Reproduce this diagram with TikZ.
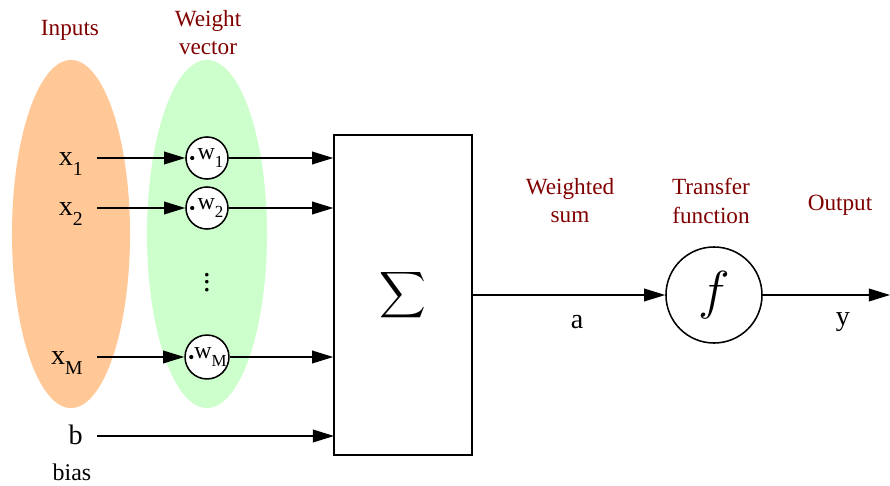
\documentclass[tikz,border=0pt]{standalone}
\usepackage{fontspec}
\setmainfont{Liberation Serif}
\newfontfamily\labelfont{Liberation Serif}
\usetikzlibrary{positioning,arrows.meta,calc}
\definecolor{inputbg}{HTML}{FFC896}
\definecolor{weightbg}{HTML}{CCFFCC}
\definecolor{caption}{HTML}{800000}
\newcommand{\lowsub}[2][14]{\raisebox{-0.8ex}{\fontsize{#1}{#1}\selectfont #2}}

\begin{document}
\begin{tikzpicture}[x=0.025cm, y=-0.025cm,
  every node/.style={font=\labelfont\fontsize{16.5}{20}\selectfont},
  wire/.style={line width=1.1pt, -{Triangle[length=15pt,width=9pt]}},
  heading/.style={text=caption, align=center},
  weight/.style={circle, draw, line width=1.1pt, fill=white, minimum size=1.05cm,
    inner sep=0pt, font=\labelfont\fontsize{17}{17}\selectfont},
  inlabel/.style={anchor=base east, inner xsep=10pt, inner ysep=0pt,
    font=\labelfont\fontsize{20}{20}\selectfont}]
  \useasboundingbox (0,0) rectangle (890,486);

  % coloured groups behind inputs and weights
  \fill[inputbg] (71,234) ellipse [x radius=1.475cm, y radius=4.35cm];
  \fill[weightbg] (207,234) ellipse [x radius=1.5cm, y radius=4.35cm];

  \node[heading] (hin) at (70,30) {Inputs};
  \node[heading] (hw) at (208,33) {Weight\\vector};

  % summing block
  \node[draw, line width=1.1pt, minimum width=3.45cm, minimum height=8cm] (sumbox)
    at (403,295) {\scalebox{2.3}{$\displaystyle\sum$}};

  % inputs -> weights -> sum
  \foreach \i/\y in {1/158, 2/208, M/357} {
    \node[inlabel] (x\i) at (97,\y+7) {x\lowsub{\i}};
    \node[weight] (w\i) at (207,\y) {\hspace{5pt}w\lowsub[12]{\i}};
    \fill ($(w\i.west)+(7,0)$) circle (1.5pt);
    \draw[wire] (x\i.east |- w\i) -- (w\i);
    \draw[wire] (w\i) -- (w\i -| sumbox.west);
  }
  \node (vdots) at (207,277) {\scalebox{1.3}{$\vdots$}};

  % bias
  \node[inlabel] (b) at (97,444) {b};
  \node (bias) at (72,472) {\fontsize{17}{17}\selectfont bias};
  \coordinate (bin) at (334,436);
  \draw[wire] (b.east |- bin) -- (bin);

  % transfer function and output
  \node[circle, draw, line width=1.1pt, minimum size=2.4cm] (fn) at (714,295)
    {\scalebox{2.2}{$f$}};
  \coordinate (yend) at (890,295);
  \draw[wire] (sumbox.east) -- (fn);
  \draw[wire] (fn) -- (yend);
  \node[font=\labelfont\fontsize{20}{20}\selectfont] (a) at (577,322) {a};
  \node[font=\labelfont\fontsize{20}{20}\selectfont] (yout) at (843,322) {y};

  \node[heading] (hsum) at (570,201) {Weighted\\sum};
  \node[heading] (hfun) at (711,201) {Transfer\\function};
  \node[heading] (hout) at (840,205) {Output};
\end{tikzpicture}
\end{document}
